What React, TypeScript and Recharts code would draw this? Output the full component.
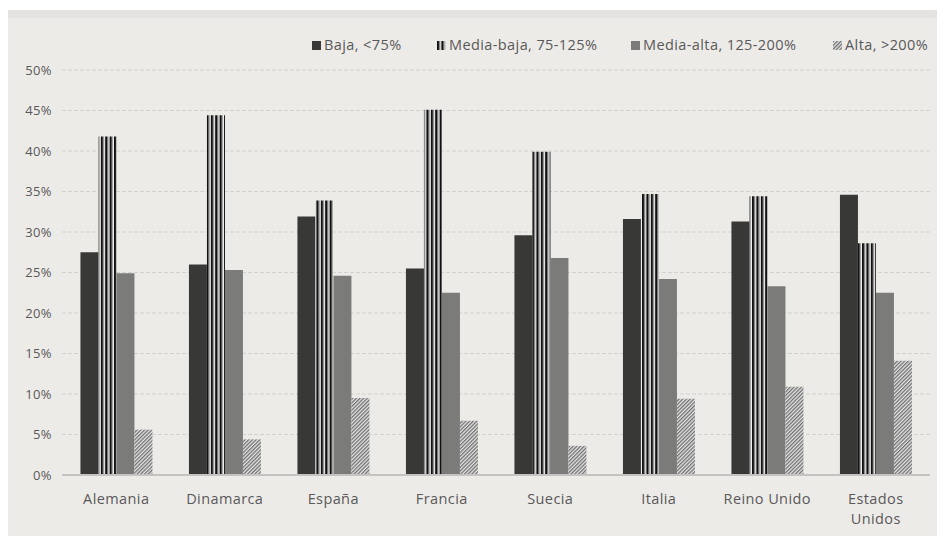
import { BarChart, Bar, XAxis, YAxis, CartesianGrid, Legend } from 'recharts';

const categories = [
  'Alemania',
  'Dinamarca',
  'España',
  'Francia',
  'Suecia',
  'Italia',
  'Reino Unido',
  'Estados Unidos',
];
const baja = [27.5, 26.0, 31.9, 25.5, 29.6, 31.6, 31.3, 34.6];
const mediaBaja = [41.8, 44.4, 33.9, 45.1, 39.9, 34.7, 34.4, 28.6];
const mediaAlta = [24.9, 25.3, 24.6, 22.5, 26.8, 24.2, 23.3, 22.5];
const alta = [5.6, 4.4, 9.5, 6.7, 3.6, 9.4, 10.9, 14.1];
const yTicks = [0, 5, 10, 15, 20, 25, 30, 35, 40, 45, 50];

const series = [
  { key: 'baja', name: 'Baja, <75%', fill: '#383836' },
  { key: 'mediaBaja', name: 'Media-baja, 75-125%', fill: 'url(#stripes)' },
  { key: 'mediaAlta', name: 'Media-alta, 125-200%', fill: '#7b7b79' },
  { key: 'alta', name: 'Alta, >200%', fill: 'url(#hatch)' },
];

const data = categories.map((name, i) => ({
  name,
  baja: baja[i],
  mediaBaja: mediaBaja[i],
  mediaAlta: mediaAlta[i],
  alta: alta[i],
}));

const textColor = '#595959';
const font = '"Open Sans", sans-serif';

// legend items are placed by hand, like the original
const legendLeft = [308, 433, 627, 829];

function LegendContent() {
  return (
    <div style={{ position: 'relative', height: 0 }}>
      {series.map((s, i) => (
        <div
          key={s.key}
          style={{
            position: 'absolute',
            left: legendLeft[i],
            top: 0,
            display: 'flex',
            alignItems: 'center',
            whiteSpace: 'nowrap',
            fontFamily: font,
            fontSize: 14.5,
            letterSpacing: 0.4,
            color: textColor,
            lineHeight: '18px',
          }}
        >
          <svg width={9} height={9} style={{ marginRight: 3 }}>
            <rect width={9} height={9} fill={s.fill} />
          </svg>
          {s.name}
        </div>
      ))}
    </div>
  );
}

function CategoryTick({ x, y, payload }: any) {
  const label: string = payload.value;
  const lines = label.length > 12 ? label.split(' ') : [label];
  return (
    <text
      x={x}
      y={y}
      textAnchor="middle"
      fill={textColor}
      fontFamily={font}
      fontSize={14.5}
      letterSpacing={0.4}
    >
      {lines.map((l, i) => (
        <tspan key={l} x={x} dy={i === 0 ? 29 : 20}>
          {l}
        </tspan>
      ))}
    </text>
  );
}

export default function App() {
  return (
    <div
      style={{
        marginLeft: -4,
        marginTop: 2,
        width: 941,
        height: 526,
        background: '#edebe8',
        borderTop: '8px solid #e3e2e0',
        boxSizing: 'border-box',
      }}
    >
      <BarChart
        width={941}
        height={518}
        data={data}
        margin={{ top: 52, right: 15, left: 0, bottom: 31 }}
        barCategoryGap="17%"
        barGap={0}
      >
        <defs>
          <pattern
            id="stripes"
            patternUnits="userSpaceOnUse"
            width={4.4}
            height={10}
          >
            <rect width={4.4} height={10} fill="#f4f4f4" />
            <rect x={0} width={2.3} height={10} fill="#111" />
            <rect x={2.3} width={0.9} height={10} fill="#8a8a8a" />
          </pattern>
          <pattern
            id="hatch"
            patternUnits="userSpaceOnUse"
            width={2.6}
            height={2.6}
            patternTransform="rotate(45)"
          >
            <rect width={2.6} height={2.6} fill="#e6e6e6" />
            <rect width={1.3} height={2.6} fill="#707070" />
          </pattern>
        </defs>
        <CartesianGrid
          vertical={false}
          stroke="#d3d1ce"
          strokeDasharray="4 2"
        />
        <XAxis
          dataKey="name"
          height={30}
          axisLine={{ stroke: '#c4c3c1', strokeWidth: 2 }}
          tickLine={false}
          tickSize={0}
          tickMargin={0}
          interval={0}
          tick={<CategoryTick />}
        />
        <YAxis
          width={58}
          domain={[0, 50]}
          ticks={yTicks}
          tickFormatter={(v) => `${v}%`}
          axisLine={false}
          tickLine={false}
          tickSize={0}
          tickMargin={10}
          tick={{
            fill: textColor,
            fontSize: 13,
            fontFamily: font,
            letterSpacing: 0.4,
          }}
        />
        <Legend
          verticalAlign="top"
          content={<LegendContent />}
          wrapperStyle={{ top: 18, left: 0, width: 941 }}
        />
        {series.map((s) => (
          <Bar
            key={s.key}
            dataKey={s.key}
            name={s.name}
            fill={s.fill}
            isAnimationActive={false}
          />
        ))}
      </BarChart>
    </div>
  );
}
